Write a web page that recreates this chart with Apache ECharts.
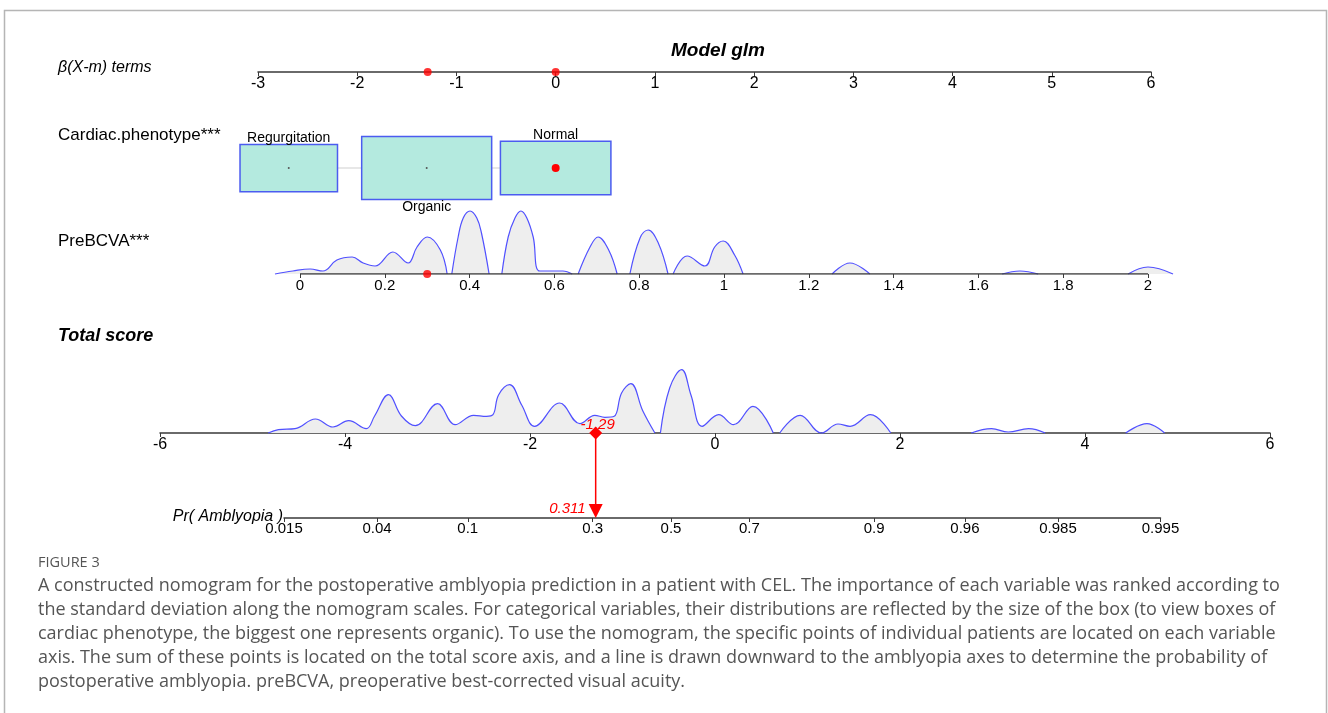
<!DOCTYPE html>
<html>
<head>
<meta charset="utf-8">
<script src="https://cdn.jsdelivr.net/npm/echarts@6/dist/echarts.min.js"></script>
<style>
  html, body { margin: 0; padding: 0; background: #fff; }
  #chart { width: 1328px; height: 713px; }
</style>
</head>
<body>
<div id="chart"></div>
<script>
// ---- data ----
const betaRange = [-3, 6];
const betaPoints = [-1.29, 0];               // red points on the beta axis

const phenoLevels = ['Regurgitation', 'Organic', 'Normal'];
const phenoBeta = [-2.69, -1.30, 0];
const phenoSize = [0.75, 1, 0.85];           // relative box size (frequency)
const phenoSelected = 'Normal';

const preBcvaTicks = [0, 0.2, 0.4, 0.6, 0.8, 1, 1.2, 1.4, 1.6, 1.8, 2];
const preBcvaSelected = 0.3;
// density segments: [preBCVA, density]
const preBcvaDensity = [
  [[-0.059, 0], [-0.017, 3], [0.024, 5], [0.054, 3], [0.087, 14], [0.123, 17], [0.149, 11],
   [0.177, 8], [0.219, 22], [0.255, 11], [0.276, 27], [0.300, 37], [0.331, 24], [0.347, 0]],
  [[0.358, 0], [0.373, 37], [0.385, 56], [0.401, 63], [0.417, 56], [0.428, 41], [0.446, 0]],
  [[0.476, 0], [0.491, 37], [0.507, 56], [0.521, 63], [0.535, 56], [0.550, 37], [0.566, 3], [0.620, 3], [0.642, 0]],
  [[0.656, 0], [0.684, 27], [0.703, 37], [0.728, 24], [0.748, 0]],
  [[0.778, 0], [0.802, 36], [0.821, 44], [0.845, 31], [0.868, 0]],
  [[0.880, 0], [0.913, 18], [0.955, 8], [0.978, 27], [0.998, 33], [1.025, 19], [1.045, 0]],
  [[1.255, 0], [1.297, 11], [1.344, 0]],
  [[1.656, 0], [1.698, 3], [1.741, 0]],
  [[1.953, 0], [2.000, 7], [2.059, 0]]
];

const totalRange = [-6, 6];
const totalScore = -1.29;
const totalDensity = [
  [[-4.83, 0], [-4.72, 3.3], [-4.54, 4.3], [-4.32, 14], [-4.13, 6], [-3.96, 12.3], [-3.77, 4.3],
   [-3.68, 17], [-3.53, 38.3], [-3.39, 17], [-3.24, 7.3], [-3.00, 29.3], [-2.81, 8.3],
   [-2.61, 17.7], [-2.47, 16.7], [-2.40, 18.3], [-2.34, 38], [-2.22, 48.3], [-2.09, 28],
   [-1.95, 6.7], [-1.68, 30], [-1.46, 9.3], [-1.30, 17.7], [-1.19, 15.7], [-1.09, 16.7],
   [-1.01, 40], [-0.91, 49.3], [-0.78, 22], [-0.65, 0]],
  [[-0.59, 0], [-0.49, 45], [-0.36, 63.3], [-0.26, 38], [-0.14, 6.7], [0.04, 18.3],
   [0.20, 8.3], [0.41, 26.7], [0.63, 0]],
  [[0.70, 0], [0.92, 17.7], [1.15, 0], [1.33, 9], [1.46, 6.7], [1.68, 18.3], [1.90, 0]],
  [[2.77, 0], [2.99, 4.3], [3.17, 1], [3.39, 4.3], [3.57, 0]],
  [[4.44, 0], [4.67, 9.3], [4.86, 0]]
];

const probTicks = [0.015, 0.04, 0.1, 0.3, 0.5, 0.7, 0.9, 0.96, 0.985, 0.995];
const probAtScore = 0.311;

const captionLines = [
  'A constructed nomogram for the postoperative amblyopia prediction in a patient with CEL. The importance of each variable was ranked according to',
  'the standard deviation along the nomogram scales. For categorical variables, their distributions are reflected by the size of the box (to view boxes of',
  'cardiac phenotype, the biggest one represents organic). To use the nomogram, the specific points of individual patients are located on each variable',
  'axis. The sum of these points is located on the total score axis, and a line is drawn downward to the amblyopia axes to determine the probability of',
  'postoperative amblyopia. preBCVA, preoperative best-corrected visual acuity.'
];

// ---- helpers ----
const logit = (p) => Math.log(p / (1 - p));
const joinSegments = (segs) => {
  const out = [];
  segs.forEach((s, i) => {
    if (i > 0) out.push(['-', '-']);
    s.forEach((p) => out.push(p));
  });
  return out;
};

const FONT = 'Liberation Sans, Arial, sans-serif';
const CAP_FONT = 'Open Sans, sans-serif';
const AXIS_Y_TOTAL = 433;
const AXIS_Y_PROB = 518;
const BOX_W = 1.31;   // beta units of the largest box
const BOX_H = 63;     // px of the largest box
const AXIS_COLOR = '#3a3a3a';

// PreBCVA grid spans the density tails, axis line drawn only over the tick range
const preMin = preBcvaDensity[0][0][0];
const lastSeg = preBcvaDensity[preBcvaDensity.length - 1];
const preMax = lastSeg[lastSeg.length - 1][0];
const PRE_X0 = 300, PRE_X1 = 1148;          // pixel of tick 0 and tick 2
const prePx = (v) => PRE_X0 + (v - preBcvaTicks[0]) / (preBcvaTicks[preBcvaTicks.length - 1] - preBcvaTicks[0]) * (PRE_X1 - PRE_X0);

const axisCommon = {
  type: 'value',
  position: 'bottom',
  splitLine: { show: false },
  axisLine: { show: true, lineStyle: { color: AXIS_COLOR, width: 1.5 } },
  axisTick: { show: true, length: 4, lineStyle: { color: AXIS_COLOR, width: 1 } },
  axisLabel: { color: '#000', fontFamily: FONT, fontSize: 15, margin: 4, showMinLabel: true, showMaxLabel: true }
};
const hiddenY = (gridIndex, min, max, inverse) => ({
  type: 'value', gridIndex: gridIndex, min: min, max: max, inverse: !!inverse, show: false,
  splitLine: { show: false }
});

const chart = echarts.init(document.getElementById('chart'));

const option = {
  animation: false,
  backgroundColor: '#fff',
  grid: [
    { left: 258, right: 177, top: 20, height: 52 },               // beta axis
    { left: 258, right: 177, top: 118, height: 100 },             // phenotype boxes
    { left: prePx(preMin), right: 1328 - prePx(preMax), top: 204, height: 70 }, // PreBCVA
    { left: 160, right: 58, top: AXIS_Y_TOTAL - 70, height: 70 },  // total score
    { left: 284, right: 167.5, top: AXIS_Y_PROB - 40, height: 40 } // probability
  ],
  xAxis: [
    Object.assign({}, axisCommon, {
      gridIndex: 0, min: betaRange[0], max: betaRange[1], interval: 1,
      axisLabel: Object.assign({}, axisCommon.axisLabel, { fontSize: 16 })
    }),
    { type: 'value', gridIndex: 1, min: betaRange[0], max: betaRange[1], show: false, splitLine: { show: false } },
    Object.assign({}, axisCommon, {
      gridIndex: 2, min: preMin, max: preMax,
      axisLine: { show: false },
      axisTick: Object.assign({}, axisCommon.axisTick, { customValues: preBcvaTicks }),
      axisLabel: Object.assign({}, axisCommon.axisLabel, { customValues: preBcvaTicks, formatter: (v) => String(+v.toFixed(1)) })
    }),
    Object.assign({}, axisCommon, {
      gridIndex: 3, min: totalRange[0], max: totalRange[1], interval: 2,
      axisLabel: Object.assign({}, axisCommon.axisLabel, { fontSize: 16 })
    }),
    Object.assign({}, axisCommon, {
      gridIndex: 4, min: logit(probTicks[0]), max: logit(probTicks[probTicks.length - 1]),
      axisTick: Object.assign({}, axisCommon.axisTick, { customValues: probTicks.map(logit) }),
      axisLabel: Object.assign({}, axisCommon.axisLabel, {
        fontSize: 15, margin: 3,
        customValues: probTicks.map(logit),
        formatter: (v) => {
          let best = probTicks[0];
          probTicks.forEach((p) => { if (Math.abs(logit(p) - v) < Math.abs(logit(best) - v)) best = p; });
          return String(best);
        }
      })
    })
  ],
  yAxis: [
    hiddenY(0, 0, 1),
    hiddenY(1, 0, 100, true),
    hiddenY(2, 0, 70),
    hiddenY(3, 0, 70),
    hiddenY(4, 0, 1)
  ],
  graphic: [
    { type: 'rect', shape: { x: 4.5, y: 10.5, width: 1322, height: 720 },
      style: { fill: 'none', stroke: '#b5b5b5', lineWidth: 1.5 }, silent: true },
    { type: 'text', x: 58, y: 68, style: { text: 'β(X-m) terms', font: 'italic 16px ' + FONT, fill: '#000', verticalAlign: 'middle' } },
    { type: 'text', x: 58, y: 135, style: { text: 'Cardiac.phenotype***', font: '17px ' + FONT, fill: '#000', verticalAlign: 'middle' } },
    { type: 'text', x: 58, y: 241, style: { text: 'PreBCVA***', font: '17px ' + FONT, fill: '#000', verticalAlign: 'middle' } },
    { type: 'text', x: 58, y: 336, style: { text: 'Total score', font: 'italic bold 18px ' + FONT, fill: '#000', verticalAlign: 'middle' } },
    { type: 'text', x: 718, y: 51, style: { text: 'Model glm', font: 'italic bold 19px ' + FONT, fill: '#000', align: 'center', verticalAlign: 'middle' } },
    { type: 'text', x: 283, y: 517, style: { text: 'Pr( Amblyopia )', font: 'italic 16px ' + FONT, fill: '#000', align: 'right', verticalAlign: 'middle' } },
    { type: 'text', x: 38, y: 563, style: { text: 'FIGURE 3', font: '14.5px ' + CAP_FONT, fill: '#555', verticalAlign: 'middle' } }
  ].concat(captionLines.map((t, i) => ({
    type: 'text', x: 38, y: 586 + i * 24,
    style: { text: t, font: '18px ' + CAP_FONT, fill: '#555', verticalAlign: 'middle' }
  }))),
  series: [
    {
      type: 'scatter', xAxisIndex: 0, yAxisIndex: 0, clip: false,
      symbolSize: 8, itemStyle: { color: '#ff0000' },
      data: betaPoints.map((b) => [b, 0]), z: 5
    },
    {
      type: 'line', xAxisIndex: 1, yAxisIndex: 1, symbol: 'none', silent: true,
      lineStyle: { color: '#cfcfcf', width: 1 },
      data: [[phenoBeta[0], 50], [phenoBeta[phenoBeta.length - 1], 50]], z: 1
    },
    {
      type: 'custom', xAxisIndex: 1, yAxisIndex: 1, clip: false, z: 3,
      data: phenoLevels.map((name, i) => [phenoBeta[i], phenoSize[i]]),
      renderItem: (params, api) => {
        const i = params.dataIndex;
        const c = api.coord([api.value(0), 50]);
        const s = api.value(1);
        const w = api.size([BOX_W * s, 0])[0];
        const h = BOX_H * s;
        const name = phenoLevels[i];
        const below = i % 2 === 1;
        const sel = name === phenoSelected;
        return {
          type: 'group',
          children: [
            { type: 'rect', shape: { x: c[0] - w / 2, y: c[1] - h / 2, width: w, height: h },
              style: { fill: '#b4eadf', stroke: '#4b5cf0', lineWidth: 1.5 } },
            { type: 'circle', shape: { cx: c[0], cy: c[1], r: sel ? 4 : 1 },
              style: { fill: sel ? '#ff0000' : '#555' } },
            { type: 'text', x: c[0], y: below ? c[1] + h / 2 + 8 : c[1] - h / 2 - 6,
              style: { text: name, font: '14px ' + FONT, fill: '#000', align: 'center', verticalAlign: 'middle' } }
          ]
        };
      }
    },
    {
      // PreBCVA axis line over the tick range
      type: 'line', xAxisIndex: 2, yAxisIndex: 2, symbol: 'none', silent: true,
      lineStyle: { color: AXIS_COLOR, width: 1.5 },
      data: [[preBcvaTicks[0], 0], [preBcvaTicks[preBcvaTicks.length - 1], 0]], z: 1
    },
    {
      type: 'line', xAxisIndex: 2, yAxisIndex: 2, clip: false, symbol: 'none',
      smooth: 0.4, connectNulls: false, silent: true,
      lineStyle: { color: '#5050ff', width: 1.2 },
      areaStyle: { color: '#eeeeee', opacity: 1 },
      data: joinSegments(preBcvaDensity), z: 0
    },
    {
      type: 'scatter', xAxisIndex: 2, yAxisIndex: 2, clip: false,
      symbolSize: 8, itemStyle: { color: '#ff0000' },
      data: [[preBcvaSelected, 0]], z: 5
    },
    {
      type: 'line', xAxisIndex: 3, yAxisIndex: 3, clip: false, symbol: 'none',
      smooth: 0.4, connectNulls: false, silent: true,
      lineStyle: { color: '#5050ff', width: 1.2 },
      areaStyle: { color: '#eeeeee', opacity: 1 },
      data: joinSegments(totalDensity), z: 2
    },
    {
      type: 'custom', xAxisIndex: 3, yAxisIndex: 3, clip: false, z: 6,
      data: [[totalScore, probAtScore]],
      renderItem: (params, api) => {
        const p = api.coord([api.value(0), 0]);
        const x = p[0], y0 = p[1];
        const y1 = y0 + (AXIS_Y_PROB - AXIS_Y_TOTAL);
        return {
          type: 'group',
          children: [
            { type: 'line', shape: { x1: x, y1: y0, x2: x, y2: y1 - 13 },
              style: { stroke: '#ff0000', lineWidth: 1.5 } },
            { type: 'polygon', shape: { points: [[x - 7, y1 - 14], [x + 7, y1 - 14], [x, y1]] },
              style: { fill: '#ff0000' } },
            { type: 'polygon', shape: { points: [[x, y0 - 6.5], [x + 6.5, y0], [x, y0 + 6.5], [x - 6.5, y0]] },
              style: { fill: '#ff0000' } },
            { type: 'text', x: x + 2, y: y0 - 8,
              style: { text: String(api.value(0)), font: 'italic 15px ' + FONT, fill: '#ff0000', align: 'center', verticalAlign: 'middle' } },
            { type: 'text', x: x - 10, y: y1 - 9,
              style: { text: String(api.value(1)), font: 'italic 15px ' + FONT, fill: '#ff0000', align: 'right', verticalAlign: 'middle' } }
          ]
        };
      }
    }
  ]
};

chart.setOption(option);
</script>
</body>
</html>
